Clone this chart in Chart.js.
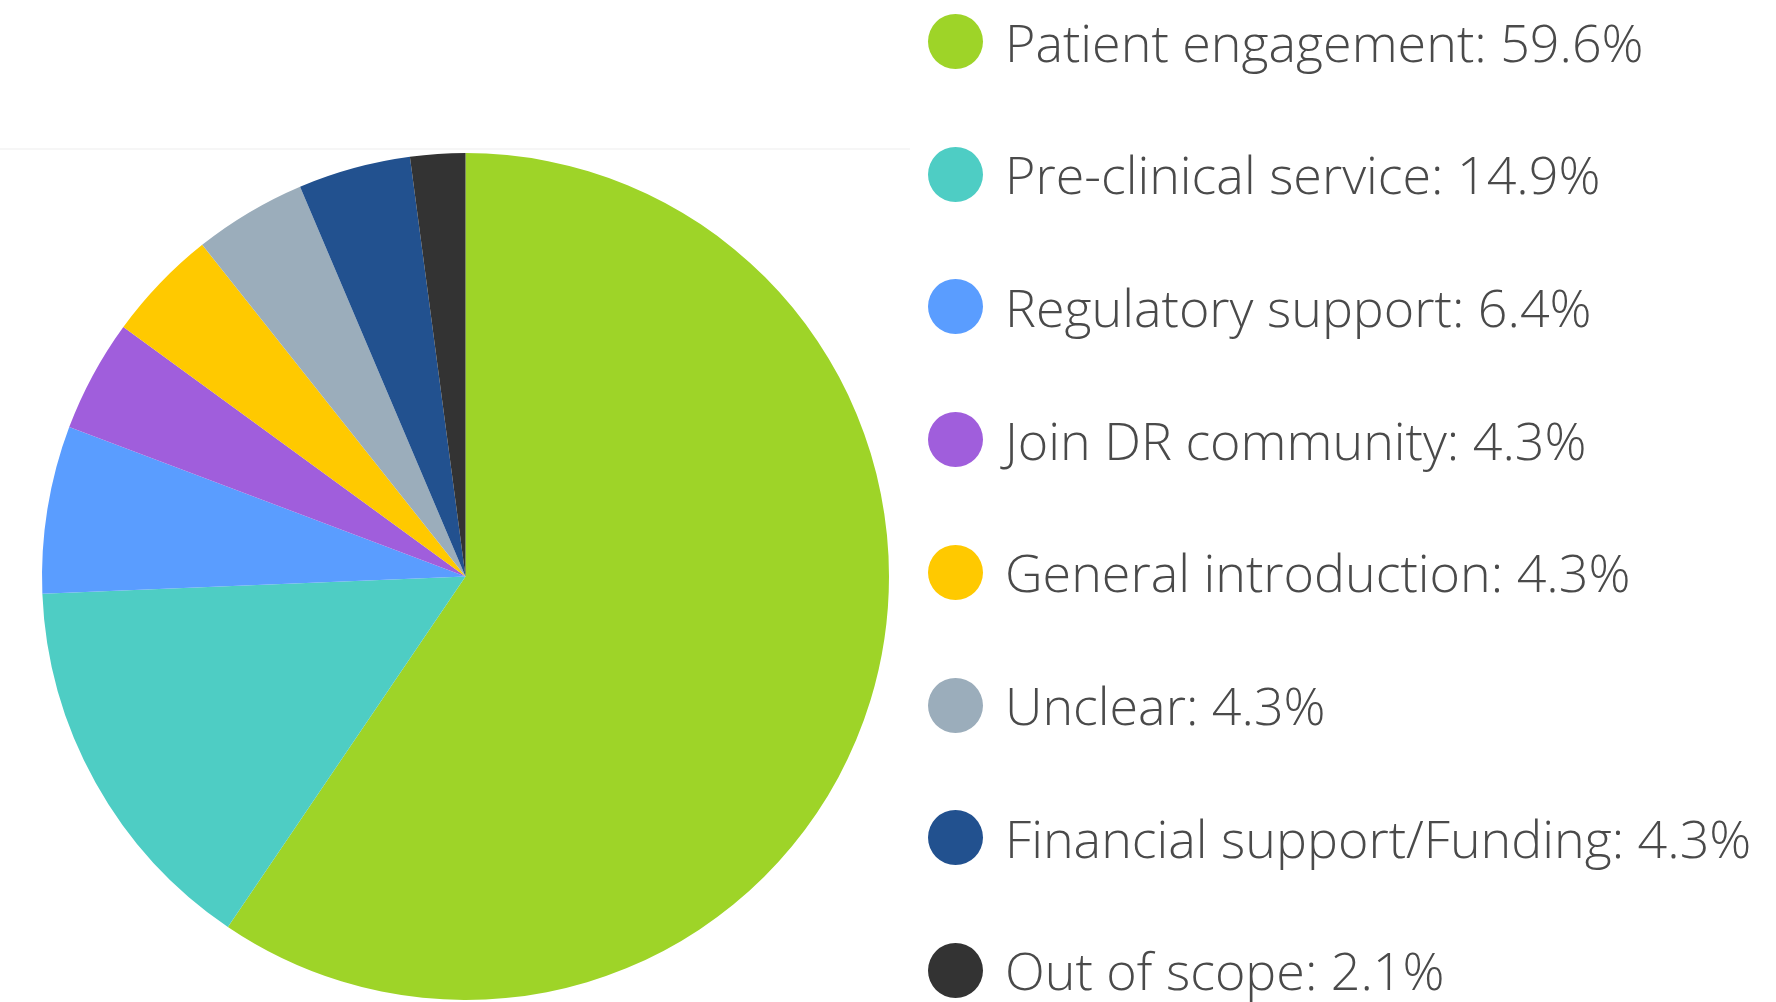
<!DOCTYPE html>
<html>
<head>
<meta charset="utf-8">
<script src="https://cdn.jsdelivr.net/npm/chart.js@4"></script>
<style>
  html, body { margin: 0; padding: 0; background: #fff; }
  body { width: 1776px; height: 1002px; position: relative; overflow: hidden; font-family: "Open Sans", "Lato", sans-serif; }
  #topLine { position: absolute; left: 0; top: 148px; width: 910px; height: 2px; background: #f6f6f6; }
  #pieBox { position: absolute; left: 0; top: 153px; width: 931px; height: 847px; }
  #legend { position: absolute; left: 0; top: 0; }
  .row { position: absolute; left: 928px; height: 60px; display: flex; align-items: center; white-space: nowrap; }
  .dot { width: 55px; height: 55px; border-radius: 50%; margin-right: 22px; flex: none; }
  .lbl { font-size: 52px; font-weight: 300; color: #4a4a4a; line-height: 60px; }
</style>
</head>
<body>
<div id="topLine"></div>
<div id="pieBox"><canvas id="myChart0"></canvas></div>
<div id="legend"></div>
<script>
const categories = ['Patient engagement', 'Pre-clinical service', 'Regulatory support', 'Join DR community',
    'General introduction', 'Unclear', 'Financial support/Funding', 'Out of scope'];
const shares = [59.6, 14.9, 6.4, 4.3, 4.3, 4.3, 4.3, 2.1];
const colors = ['#9ed428', '#4ecdc4', '#5a9dff', '#a05edc', '#ffc900', '#9badbb', '#22518f', '#333333'];

const ctx = document.getElementById('myChart0').getContext('2d');
let myChart = new Chart(ctx, {
    type: 'pie',
    data: {
        labels: categories,
        datasets: [{
            data: shares,
            backgroundColor: colors,
            borderWidth: 0
        }]
    },
    options: {
        responsive: true,
        maintainAspectRatio: false,
        animation: false,
        layout: { padding: 0 },
        plugins: {
            legend: { display: false },
            tooltip: { enabled: false }
        }
    }
});

// legend built from the same arrays
const legend = document.getElementById('legend');
for (let i = 0; i < categories.length; i++) {
    let row = document.createElement('div');
    row.classList.add('row');
    row.style.top = (41.5 + i * 132.7 - 30) + 'px';
    let dot = document.createElement('span');
    dot.classList.add('dot');
    dot.style.background = colors[i];
    let lbl = document.createElement('span');
    lbl.classList.add('lbl');
    lbl.textContent = categories[i] + ': ' + shares[i].toFixed(1) + '%';
    row.appendChild(dot);
    row.appendChild(lbl);
    legend.appendChild(row);
}
</script>
</body>
</html>
